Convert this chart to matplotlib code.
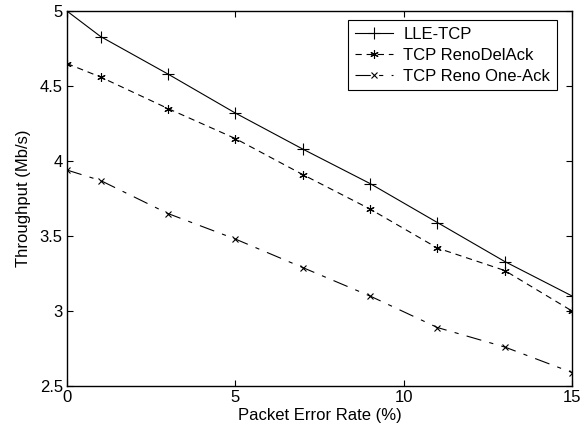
import matplotlib
matplotlib.use('Agg')
import matplotlib.pyplot as plt

plt.rcParams['font.family'] = ['Liberation Sans', 'DejaVu Sans']
plt.rcParams['lines.scale_dashes'] = False

per = [0, 1, 3, 5, 7, 9, 11, 13, 15]
lle_tcp = [5.0, 4.83, 4.58, 4.32, 4.08, 3.85, 3.59, 3.33, 3.10]
reno_delack = [4.65, 4.56, 4.35, 4.15, 3.91, 3.68, 3.42, 3.27, 3.00]
reno_oneack = [3.94, 3.87, 3.65, 3.48, 3.29, 3.10, 2.89, 2.76, 2.59]

fig = plt.figure(figsize=(5.82, 4.33), dpi=100)
ax = fig.add_axes([0.115, 0.1085, 0.868, 0.866])

ax.plot(per, lle_tcp, color='black', lw=0.8, ls='-',
        marker='+', ms=8, mew=0.8, label='LLE-TCP')
ax.plot(per, reno_delack, color='black', lw=0.8, ls=(0, (4.5, 3.5)),
        marker=(6, 2, 0), ms=6, mew=0.8, label='TCP RenoDelAck')
ax.plot(per, reno_oneack, color='black', lw=0.8, ls=(0, (11, 6, 3, 6)),
        marker='x', ms=4, mew=0.8, label='TCP Reno One-Ack')

ax.set_xlim(0, 15)
ax.set_ylim(2.5, 5)
ax.set_xticks([0, 5, 10, 15])
ax.set_yticks([2.5, 3, 3.5, 4, 4.5, 5])
ax.set_yticklabels(['2.5', '3', '3.5', '4', '4.5', '5'])
ax.tick_params(direction='in', top=True, right=True, labelsize=12, length=4, pad=3)
for s in ax.spines.values():
    s.set_linewidth(1.0)

ax.set_xlabel('Packet Error Rate (%)', fontsize=12, labelpad=2)
ax.set_ylabel('Throughput (Mb/s)', fontsize=12, labelpad=6)

leg = ax.legend(loc='upper right', fontsize=12, fancybox=False, edgecolor='black',
                framealpha=1, borderaxespad=0.0, bbox_to_anchor=(0.97, 0.975),
                handlelength=2.3, borderpad=0.4, labelspacing=0.35, handletextpad=0.6)
leg.get_frame().set_linewidth(0.8)

fig.savefig('out.png', dpi=100)
